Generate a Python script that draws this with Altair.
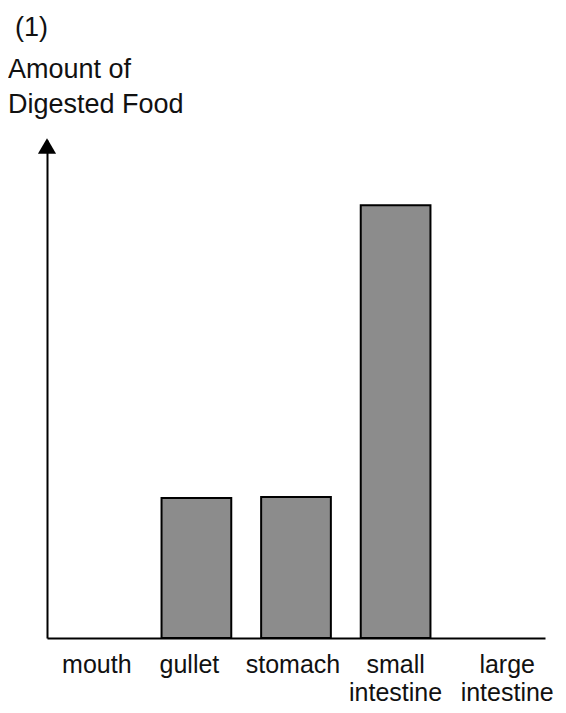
import altair as alt
import pandas as pd

organs = ["mouth", "gullet", "stomach", "small intestine", "large intestine"]
amounts = [0, 28.1, 28.3, 86.9, 0]
title_lines = ["(1)", "Amount of", "Digested Food"]

df = pd.DataFrame({"organ": organs, "amount": amounts})

FONT = "Liberation Sans"

x_enc = alt.X(
    "organ:N",
    sort=organs,
    scale=alt.Scale(domain=organs, paddingInner=0.3, paddingOuter=0.15),
    axis=alt.Axis(
        title=None,
        ticks=False,
        domainColor="black",
        domainWidth=2,
        labelAngle=0,
        labelFont=FONT,
        labelFontSize=25,
        labelColor="#111",
        labelBaseline="top",
        labelPadding=14,
        labelLineHeight=28,
        labelExpr="split(datum.label, ' ')",
        labelOffset={
            "condition": [
                {"test": "datum.value == 'large intestine'", "value": 12},
                {"test": "datum.value == 'gullet'", "value": -7},
                {"test": "datum.value == 'stomach'", "value": -3},
            ],
            "value": 0,
        },
    ),
)

y_enc = alt.Y(
    "amount:Q",
    scale=alt.Scale(domain=[0, 100]),
    axis=alt.Axis(
        title=None,
        ticks=False,
        labels=False,
        grid=False,
        domainColor="black",
        domainWidth=2,
    ),
)

bars = alt.Chart(df).transform_filter("datum.amount > 0").mark_bar(
    fill="#8c8c8c", stroke="black", strokeWidth=2
).encode(x=x_enc, y=y_enc)

arrow = alt.Chart(pd.DataFrame({"a": [0]})).mark_point(
    shape="triangle-up", filled=True, color="black", size=330, opacity=1
).encode(x=alt.value(0), y=alt.value(6))

title_df = pd.DataFrame({
    "t": title_lines,
    "px": [-32, -39, -39],
    "py": [-104, -62, -27],
})

titles = alt.Chart(title_df).mark_text(
    align="left", baseline="alphabetic", font=FONT, fontSize=27, color="#111"
).encode(
    text="t:N",
    x=alt.X("px:Q", scale=None),
    y=alt.Y("py:Q", scale=None),
)

chart = alt.layer(bars, arrow, titles).properties(
    width=498,
    height=498,
    autosize=alt.AutoSizeParams(type="none"),
    padding={"left": 39, "top": 132, "right": 13, "bottom": 67},
).configure_view(stroke=None)

chart.save("out.html", embed_options={"renderer": "svg", "actions": False})
